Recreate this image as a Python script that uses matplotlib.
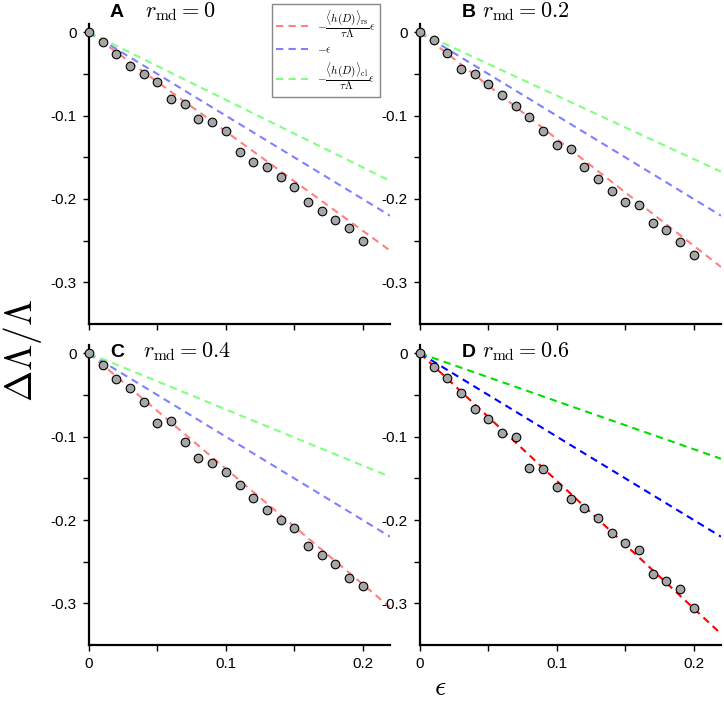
import matplotlib
matplotlib.use("Agg")
import matplotlib.pyplot as plt

plt.rcParams['mathtext.fontset'] = 'cm'
plt.rcParams['font.family'] = ['Liberation Sans', 'DejaVu Sans']
plt.rcParams['axes.unicode_minus'] = False

eps = [0.0, 0.01, 0.02, 0.03, 0.04, 0.05, 0.06, 0.07, 0.08, 0.09, 0.10,
       0.11, 0.12, 0.13, 0.14, 0.15, 0.16, 0.17, 0.18, 0.19, 0.20]

sim_A = [0.0, -0.011, -0.026, -0.040, -0.050, -0.060, -0.080, -0.086, -0.104, -0.107, -0.118,
         -0.144, -0.155, -0.162, -0.173, -0.185, -0.203, -0.214, -0.225, -0.235, -0.250]
sim_B = [0.0, -0.009, -0.025, -0.044, -0.050, -0.062, -0.075, -0.088, -0.102, -0.118, -0.135,
         -0.140, -0.162, -0.176, -0.190, -0.203, -0.207, -0.229, -0.237, -0.251, -0.267]
sim_C = [0.0, -0.014, -0.031, -0.042, -0.058, -0.083, -0.081, -0.106, -0.125, -0.131, -0.142,
         -0.158, -0.173, -0.188, -0.200, -0.210, -0.231, -0.242, -0.253, -0.270, -0.279]
sim_D = [0.0, -0.016, -0.030, -0.047, -0.067, -0.079, -0.095, -0.100, -0.137, -0.139, -0.160,
         -0.175, -0.186, -0.198, -0.215, -0.228, -0.236, -0.265, -0.273, -0.283, -0.305]

r_md = ['0', '0.2', '0.4', '0.6']
letters = ['A', 'B', 'C', 'D']
# slopes of the theory lines: <h(D)>_rs/(tau Lambda), 1, <h(D)>_cl/(tau Lambda)
slope_rs = [1.19, 1.28, 1.385, 1.53]
slope_cl = [0.81, 0.76, 0.673, 0.575]

eps_max = 0.22

fig = plt.figure(figsize=(7.24, 7.01), dpi=100)
W, H = 724, 701

# axes boxes in pixels: left, top, right, bottom
boxes = [(89, 24, 390, 324), (420, 24, 721, 324),
         (89, 345, 390, 645), (420, 345, 721, 645)]
title_pos = [(110, 145, 17), (462, 482, 17), (110, 143, 357), (462, 482, 357)]
sims = [sim_A, sim_B, sim_C, sim_D]

for i in range(4):
    l, t, r, b = boxes[i]
    ax = fig.add_axes([l / W, 1 - b / H, (r - l) / W, (b - t) / H])
    if i < 3:
        cols = [(1, 0.5, 0.5), (0.5, 0.5, 1), (0.5, 1, 0.5)]
    else:
        cols = ['red', 'blue', '#00e000']
    slopes = [slope_rs[i], 1.0, slope_cl[i]]
    labels = [r'$-\dfrac{\langle h(D)\rangle_{\rm rs}}{\tau\Lambda}\epsilon$',
              r'$-\epsilon$',
              r'$-\dfrac{\langle h(D)\rangle_{\rm cl}}{\tau\Lambda}\epsilon$']
    for c, s, lab in zip(cols, slopes, labels):
        ax.plot([0, eps_max], [0, -s * eps_max], color=c, lw=1.5,
                dashes=(3.5, 2.5), label=lab)
    ax.plot(eps, sims[i], 'o', ms=6.2, mfc='#a6a6a6', mec='black', mew=0.8,
            clip_on=False, zorder=5)

    ax.set_xlim(0, eps_max)
    ax.set_ylim(-0.35, 0.01)
    ax.spines['top'].set_visible(False)
    ax.spines['right'].set_visible(False)
    ax.spines['left'].set_linewidth(1.6)
    ax.spines['bottom'].set_linewidth(1.6)
    ax.set_xticks([0, 0.05, 0.1, 0.15, 0.2])
    if i >= 2:
        ax.set_xticklabels(['0', '', '0.1', '', '0.2'])
    else:
        ax.set_xticklabels([])
    ax.set_yticks([0, -0.05, -0.1, -0.15, -0.2, -0.25, -0.3])
    ax.set_yticklabels(['0', '', '-0.1', '', '-0.2', '', '-0.3'])
    ax.tick_params(direction='out', length=4, width=1, labelsize=11, pad=5)

    if i == 0:
        ax.legend(loc='upper left', bbox_to_anchor=(266 / W, 1 + 2 / H),
                  bbox_transform=fig.transFigure, fontsize=8, frameon=True,
                  fancybox=False, edgecolor='#888888', framealpha=1,
                  handlelength=2.9, handletextpad=0.8, labelspacing=0.5,
                  borderpad=0.4)

    xl, xr, yb = title_pos[i]
    fig.text(xl / W, 1 - yb / H, letters[i], fontsize=14, fontweight='bold',
             va='baseline')
    fig.text(xr / W, 1 - yb / H, r'$r_{\rm md} = ' + r_md[i] + '$',
             fontsize=16, va='baseline')

fig.text(22 / W, 0.5, r'$\Delta\Lambda/\Lambda$', fontsize=27, rotation=90,
         ha='center', va='center')
fig.text(440 / W, 1 - 688 / H, r'$\epsilon$', fontsize=20, ha='center',
         va='center')

fig.savefig('out.png', dpi=100)
